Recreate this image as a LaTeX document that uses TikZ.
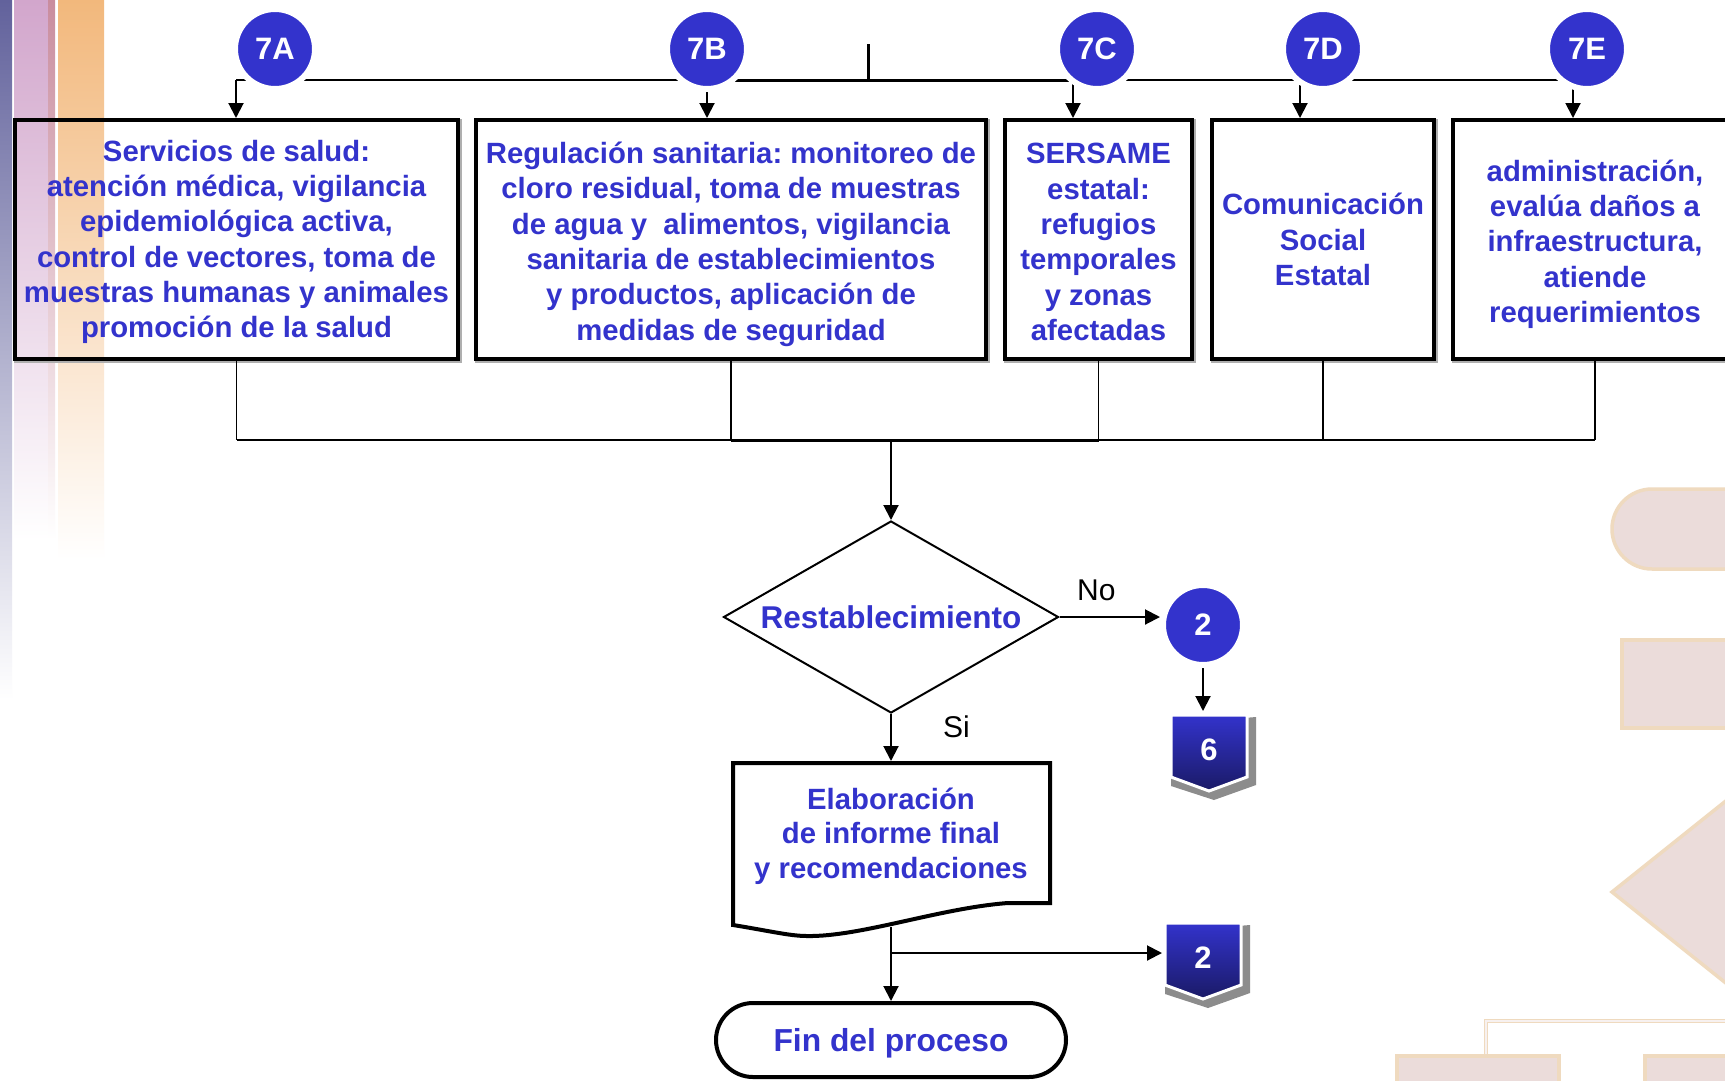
\documentclass[tikz,border=0pt]{standalone}
\usepackage{fontspec}
\setmainfont{Liberation Sans}
\usetikzlibrary{arrows.meta,shapes.geometric}
\frenchspacing

\definecolor{blueT}{HTML}{3333CC}
\definecolor{navyT}{HTML}{1A1A66}
\definecolor{shadowG}{HTML}{8C8C8C}
\definecolor{wmFill}{HTML}{EBDCDA}
\definecolor{wmEdge}{HTML}{EFDABF}
\definecolor{stripeA}{HTML}{62629C}
\definecolor{stripeB}{HTML}{D2A6CC}
\definecolor{stripeC}{HTML}{C98C9E}
\definecolor{stripeD}{HTML}{F2B87C}

\pgfdeclarelayer{deco}
\pgfdeclarelayer{back}
\pgfdeclarelayer{shapes}
\pgfsetlayers{deco,back,shapes,main}

% invisible strut that gives the first text line extra height
\newcommand{\firstlift}[1]{\rule{0pt}{#1}}

\tikzset{
  txt/.style={font=\fontsize{29.3}{35.3}\selectfont\bfseries, text=blueT, align=center},
  actbox/.style={txt, rectangle, draw, line width=4pt, inner sep=2pt, minimum height=239pt},
  boxshade/.style={draw=shadowG!70, line width=2pt},
  tag/.style={circle, fill=blueT, draw=white, line width=6pt, minimum size=80pt,
    inner sep=0pt, text=white, font=\fontsize{31}{31}\selectfont\bfseries},
  offpg/.style={rectangle, minimum width=76pt, minimum height=70pt, inner sep=0pt,
    outer sep=0pt, text=white, font=\fontsize{31}{31}\selectfont\bfseries},
  lbl/.style={font=\fontsize{30}{30}\selectfont, text=black, inner sep=0pt},
  wire/.style={line width=2pt},
  arr/.style={wire, -{Triangle[width=15pt,length=15pt]}},
  wm/.style={fill=wmFill, draw=wmEdge, line width=3.5pt},
  offpage/.pic={
    \fill[shadowG] (-38,9) -- (47,2) -- (47,70) -- (5,85) -- (-38,71) -- cycle;
    \shadedraw[top color=blueT, bottom color=navyT, draw=white, line width=3pt]
      (-38,0) -- (38,0) -- (38,62) -- (0,76) -- (-38,62) -- cycle;
  }
}

\begin{document}
\begin{tikzpicture}[x=1pt, y=-1pt]
\useasboundingbox (0,0) rectangle (1725,1080);

% ---------- background: side stripes and faint flowchart watermark ----------
\begin{pgfonlayer}{deco}
  \fill[white] (0,0) rectangle (1725,1080);
  \shade[top color=stripeA, bottom color=white] (0,0) rectangle (12,700);
  \shade[top color=stripeB, bottom color=white] (14,0) rectangle (48,540);
  \shade[top color=stripeC, bottom color=white] (48,0) rectangle (55,540);
  \shade[top color=stripeD, bottom color=white] (58,0) rectangle (104,560);

  \draw[wm, rounded corners=40pt] (1612,489) rectangle (1820,569);
  \draw[wm] (1622,640) rectangle (1820,728);
  \draw[wm] (1612,892) -- (1792,748) -- (1972,892) -- (1792,1036) -- cycle;
  \draw[wmEdge, line width=1.5pt, double=wmFill!40, double distance=1.5pt]
    (1486,1055) -- (1486,1021) -- (1800,1021);
  \draw[wm] (1397,1056) rectangle (1559,1200);
  \draw[wm] (1645,1056) rectangle (1900,1200);
\end{pgfonlayer}

% ---------- activity boxes ----------
\node[actbox, minimum width=443pt] (b7a) at (236.5,239.5)
  {\firstlift{26pt}Servicios de salud:\\atención médica, vigilancia\\epidemiológica activa,\\control de vectores, toma de\\muestras humanas y animales\\promoción de la salud};
\node[actbox, minimum width=510pt] (b7b) at (731,239.5)
  {\firstlift{31pt}Regulación sanitaria: monitoreo de\\cloro residual, toma de muestras\\de agua y\ \ alimentos, vigilancia\\sanitaria de establecimientos\\y productos, aplicación de\\medidas de seguridad};
\node[actbox, minimum width=187pt] (b7c) at (1098.5,239.5)
  {\firstlift{25.5pt}SERSAME\\estatal:\\refugios\\temporales\\y zonas\\afectadas};
\node[actbox, minimum width=222pt] (b7d) at (1323,239.5)
  {Comunicación\\Social\\Estatal};
\node[actbox, minimum width=284pt] (b7e) at (1595,239.5)
  {\firstlift{31pt}administración,\\evalúa daños a\\infraestructura,\\atiende\\requerimientos};

% ---------- entry tags ----------
\node[tag] (c7a) at (275,49) {7A};
\node[tag] (c7b) at (707,49) {7B};
\node[tag] (c7c) at (1097,49) {7C};
\node[tag] (c7d) at (1323,49) {7D};
\node[tag] (c7e) at (1587,49) {7E};

\coordinate (dA) at (236,80);
\coordinate (dB) at (707,80);
\coordinate (dC) at (1073,80);
\coordinate (dD) at (1300,80);
\coordinate (dE) at (1573,80);
\coordinate (inT) at (868,44);
\coordinate (busB) at (891,440);

% ---------- decision, report, end ----------
\node[diamond, draw, line width=2pt, aspect=1.745, minimum width=335pt, minimum height=192pt,
  inner sep=0pt, font=\fontsize{31.5}{31.5}\selectfont\bfseries, text=blueT] (dec) at (891,617)
  {Restablecimiento};
\node[lbl, anchor=base west] (no) at (1077,600) {No};
\node[lbl, anchor=base west] (si) at (943,737) {Si};

\node[tag] (c2) at (1203,625) {2};
\node[offpg, anchor=north] (p6) at (1209,715) {6};

\node[txt, font=\fontsize{29.3}{34.5}\selectfont\bfseries, rectangle, minimum width=317pt,
  minimum height=150pt, inner sep=0pt, outer sep=0pt, anchor=north] (doc) at (891,761)
  {Elaboración\\de informe final\\y recomendaciones};
\coordinate (docb) at (891,927);
\coordinate (br) at (891,953);
\node[offpg, anchor=north] (p2) at (1203,923) {2};

\node[txt, font=\fontsize{31.8}{31.8}\selectfont\bfseries, draw, line width=4pt, rounded corners=37pt,
  minimum width=350pt, minimum height=74pt, text depth=0pt] (fin) at (891,1040) {Fin del proceso};

% ---------- off-page connector shapes and report outline ----------
\begin{pgfonlayer}{shapes}
  \pic at (p6.north) {offpage};
  \pic at (p2.north) {offpage};
  \draw[line width=4pt, line join=miter]
    (733,763) -- (1050,763) -- (1050,903) -- (1008,903)
    .. controls (940,908) and (860,937) .. (807,936)
    .. controls (790,936) and (770,931) .. (733,925) -- cycle;
\end{pgfonlayer}

% ---------- connectors ----------
\begin{pgfonlayer}{back}
  \foreach \b in {b7a,b7b,b7c,b7d,b7e}
    \draw[boxshade] ([shift={(2,2)}]\b.north west) rectangle ([shift={(1,1)}]\b.south east);

  \draw[wire] (dA) -- (dE);
  \draw[line width=3pt] (dB) -- (dC);
  \draw[line width=3pt] (inT) -- (inT |- dB);
  \foreach \d/\b in {dA/b7a, dB/b7b, dC/b7c, dD/b7d, dE/b7e}
    \draw[arr] (\d) -- (\d |- \b.north);

  \foreach \b in {b7a,b7b,b7c,b7d,b7e}
    \draw[line width=1.5pt] (\b.south) -- (\b.south |- busB);
  \draw[line width=2pt] (b7a.south |- busB) -- (b7e.south |- busB);
  \draw[line width=3pt] (b7b.south |- busB) -- (b7c.south |- busB);
  \draw[arr] (busB) -- (dec.north);

  \draw[arr] (dec.east) -- (dec.east -| c2.west);
  \draw[arr, shorten >=4pt] (c2.south) -- (c2.south |- p6.north);
  \draw[arr] (dec.south) -- (doc.north);
  \draw[arr] (docb) -- (fin.north);
  \draw[arr, shorten >=3pt] (br) -- (br -| p2.west);
\end{pgfonlayer}
\end{tikzpicture}
\end{document}
